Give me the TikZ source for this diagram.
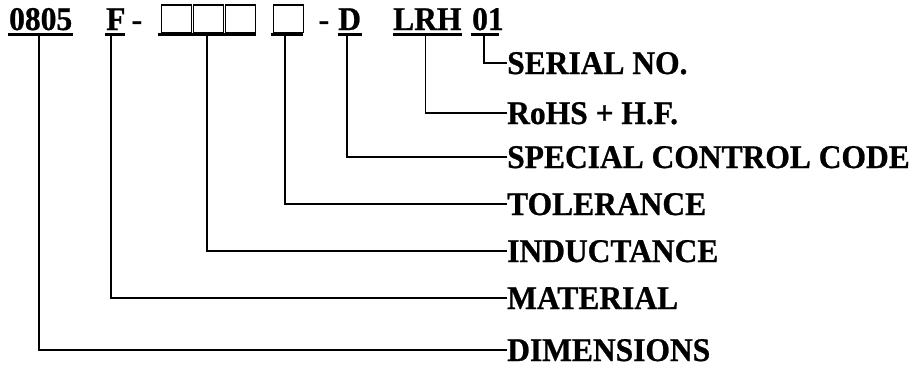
\documentclass[tikz,border=0pt]{standalone}
\usepackage{fontspec}
\setmainfont{Liberation Serif}[BoldFeatures={FakeBold=0.8}]
\begin{document}
\begin{tikzpicture}[x=1pt,y=1pt,
  code/.style={inner sep=0pt, anchor=base west, font=\fontsize{31.5}{36}\selectfont\bfseries},
  desc/.style={inner sep=0pt, anchor=base west, text height=22pt, text depth=0pt,
               font=\fontsize{31.5}{36}\selectfont\bfseries},
  slot/.style={draw, line width=1.3pt, minimum width=30pt, minimum height=27.5pt,
               inner sep=0pt, anchor=south west},
  uline/.style={line width=3pt},
  conn/.style={line width=1.8pt}]
\useasboundingbox (0,0) rectangle (915,-368);

% part number fields
\node[code] (c0805) at (9,-30) {\scalebox{1}[1.05]{0805}};
\node[code] (cf) at (106,-30) {\scalebox{1}[1.05]{F}};
\node[code] (h1) at (131.5,-30) {-};
\node[slot] (b1) at (161,-33) {};
\node[slot] (b2) at (192.5,-33) {};
\node[slot] (b3) at (224.5,-33) {};
\node[slot] (b4) at (273,-33) {};
\node[code] (h2) at (318.5,-30) {-};
\node[code] (cd) at (338,-30) {\scalebox{1}[1.05]{D}};
\node[code] (clrh) at (393,-30) {\scalebox{1}[1.05]{LRH}};
\node[code] (c01) at (472,-30) {\scalebox{1}[1.05]{01}};

% underlines below each field
\draw[uline] (8,-34.5) -- (73,-34.5);
\draw[uline] (105,-34.5) -- (125,-34.5);
\draw[uline] (158,-34.5) -- (256,-34.5);
\draw[uline] (271,-34.5) -- (303,-34.5);
\draw[uline] (338,-34.5) -- (362,-34.5);
\draw[uline] (393,-34.5) -- (462,-34.5);
\draw[uline] (471,-34.5) -- (499,-34.5);

% tap points on the underlines
\coordinate (t0805) at (39,-35);
\coordinate (tf) at (111,-35);
\coordinate (tind) at (207,-35);
\coordinate (ttol) at (285,-35);
\coordinate (td) at (347,-35);
\coordinate (tlrh) at (425.5,-35);
\coordinate (t01) at (484,-35);

% field descriptions
\node[desc] (lser) at (507,-74) {\scalebox{1}[1.05]{SERIAL NO.}};
\node[desc] (lrohs) at (507,-124) {\scalebox{1}[1.05]{RoHS + H.F.}};
\node[desc] (lspc) at (507,-168) {\scalebox{1}[1.05]{SPECIAL CONTROL CODE}};
\node[desc] (ltol) at (507,-215) {\scalebox{1}[1.05]{TOLERANCE}};
\node[desc] (lind) at (507,-262) {\scalebox{1}[1.05]{INDUCTANCE}};
\node[desc] (lmat) at (507,-309) {\scalebox{1}[1.05]{MATERIAL}};
\node[desc] (ldim) at (507,-361) {\scalebox{1}[1.05]{DIMENSIONS}};

% leader lines
\draw[conn] (t01) |- (lser.west);
\draw[conn] (tlrh) |- (lrohs.west);
\draw[conn] (td) |- (lspc.west);
\draw[conn] (ttol) |- (ltol.west);
\draw[conn] (tind) |- (lind.west);
\draw[conn] (tf) |- (lmat.west);
\draw[conn] (t0805) |- (ldim.west);
\end{tikzpicture}
\end{document}
